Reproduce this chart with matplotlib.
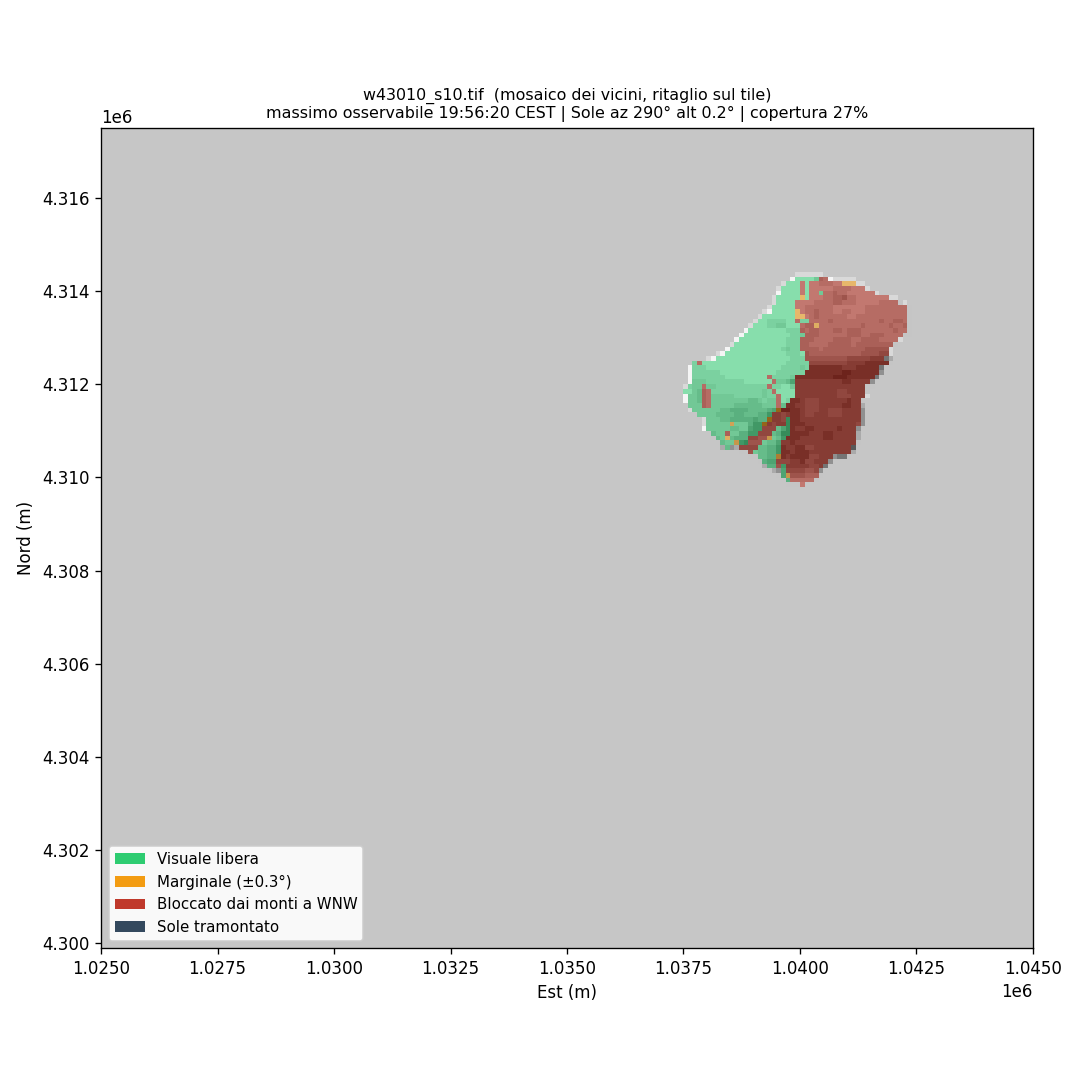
import numpy as np
import matplotlib
matplotlib.use("Agg")
import matplotlib.pyplot as plt
from matplotlib.colors import to_rgb
from matplotlib.patches import Patch

TITLE = "w43010_s10.tif  (mosaico dei vicini, ritaglio sul tile)\nmassimo osservabile 19:56:20 CEST | Sole az 290° alt 0.2° | copertura 27%"
XLABEL = "Est (m)"
YLABEL = "Nord (m)"
LEGEND_LABELS = ["Visuale libera", "Marginale (±0.3°)", "Bloccato dai monti a WNW", "Sole tramontato"]
LEGEND_COLORS = ["#2ecc71", "#f39c12", "#c0392b", "#34495e"]

# raster cells: 100 m, north to south
WEST, NORTH, CELL = 1037500, 4314400, 100
# gray value of each hillshade digit
SHADE_LEVELS = [10, 37, 64, 90, 117, 144, 170, 197, 217, 245]
# class runs per row: _ nothing, e terrain only, G free, O marginal, R blocked
CLASS_ROWS = [
    "24_ 6e",
    "23_ 1e 5G 2R 6e",
    "21_ 1e 3G 1R 1G 7R 3O 2e",
    "20_ 1e 4G 1R 1G 12R 1e",
    "20_ 1e 4G 1R 1G 2R 1G 11R 1e",
    "19_ 1e 5G 1O 1G 17R 2e",
    "19_ 1e 4G 22R 2e",
    "18_ 1e 5G 24R 1e",
    "17_ 2e 5G 1O 23R 1e",
    "16_ 1e 7G 2O 22R 1e",
    "15_ 1e 8G 1R 2G 21R 1e",
    "14_ 1e 10G 3R 1O 19R 1e",
    "13_ 1e 11G 23R 1e",
    "12_ 1e 13G 21R 2e",
    "11_ 1e 13G 21R 1e",
    "10_ 1e 14G 20R 1e",
    "9_ 1e 15G 19R 1e",
    "7_ 2e 17G 18R 1e",
    "5_ 2e 19G 17R 2e",
    "2_ 1G 1R 23G 17R 1e",
    "1_ 1e 25G 15R 1e",
    "1_ 1e 24G 16R 1e",
    "1_ 1e 16G 1R 5G 17R 1e",
    "1_ 1e 17G 1R 4G 16R 1e",
    "1e 3G 1R 13G 1R 5G 15R 2e",
    "4G 2R 13G 1R 4G 15R 1e",
    "1e 3G 2R 14G 1R 3G 15R 1e",
    "1e 3G 2R 14G 1R 2G 15R 1e",
    "1_ 3G 2R 14G 1R 1G 16R 1e",
    "1_ 1e 18G 1O 17R 1e",
    "3_ 16G 19R 1e",
    "4_ 1e 13G 1O 3R 1G 15R 1e",
    "4_ 1e 5G 1O 6G 1O 4R 1G 15R 1e",
    "4_ 1e 12G 3R 3G 14R 1e",
    "6_ 3G 1R 6G 3R 4G 14R 1e",
    "7_ 2G 1O 4G 4R 1O 3G 15R 1e",
    "8_ 3G 1O 2G 3R 4G 16R 1e",
    "8_ 1e 1G 2e 4R 5G 15R 1e",
    "12_ 2e 1R 6G 15R 1e",
    "14_ 2e 4G 1O 11R 4e",
    "16_ 1e 3G 11R 1e",
    "17_ 1e 2G 1R 1G 8R 1e",
    "18_ 3e 1G 7R 1e",
    "20_ 1e 1G 1O 6R 1e",
    "22_ 1G 5R 1e",
    "22_ 3e 1R",
]
# hillshade digit of each non-blank cell, from the row's first cell
SHADE_ROWS = [
    "888888",
    "9 9999 7 56 9 88888",
    "8 999 7 9 7766677 888 88",
    "8 9999 7 9 777776666777 8",
    "9 9999 7 9 77 7 66566777777 8",
    "8 99999 8 9 77766554667777777 88",
    "8 9999 7777666655666777776666 78",
    "8 99999 776666667777777666666666 7",
    "89 99999 8 76656667766777666666666 7",
    "8 9999999 88 7656666667766666666666 7",
    "8 99888899 6 88 666656666666666566556 7",
    "8 9998877999 655 7 6666666665666665665 7",
    "9 99999999888 56556665565556666666566 7",
    "9 9999999999887 555666666555665556666 77",
    "9 9999999999888 555666655556655556666 8",
    "8 99999999999888 55666655555655555555 7",
    "9 999999999998788 5555655555555544444 8",
    "89 99999999999998889 455555555555444433 8",
    "89 9999999999999999888 44444444433333222 46",
    "8 6 99999999999999999988888 33333333222211111 7",
    "9 8889999999999999999888878 111111122211111 4",
    "9 888888999999999999888888 1111111100111111 5",
    "9 8888888999999999 6 88887 11111111000111111 4",
    "9 77788888888999999 6 7764 2222222222112222 5",
    "8 877 6 7788888888888 6 88997 222222222222222 77",
    "9976 56 8888888888878 6 9999 222222222332222 7",
    "9 776 56 77777888888788 6 999 222222222333222 8",
    "9 776 56 77777777667877 6 98 112333222222122 7",
    "777 56 77777666666777 6 6 1122333222221122 6",
    "8 777777665555666654 1 00112333223332222 5",
    "7777666655666553 2232112332223332222 5",
    "8 7776655555455 1 223 2 112222222222222 5",
    "8 77777 6 777533 1 2322 2 111222222222223 5",
    "9 777776677433 333 642 12211222221222 5",
    "677 5 775533 333 6522 11112221122222 6",
    "67 7 6555 3344 5 763 111222221122222 6",
    "677 5 32 444 7664 2212222222222222 7",
    "6 6 56 3333 66553 122113322222222 3",
    "77 4 766553 112111222222222 6",
    "77 6655 3 12111133222 5447",
    "7 544 33322133222 5",
    "6 55 4 3 22222332 4",
    "765 4 3333443 5",
    "7 4 5 444555 7",
    "5 66666 7",
    "777 7",
]
ALPHA = 0.55
CLASS_COLOR = {"G": LEGEND_COLORS[0], "O": LEGEND_COLORS[1], "R": LEGEND_COLORS[2]}

n_rows = len(CLASS_ROWS)
n_cols = 49
shade = np.full((n_rows, n_cols), np.nan)
overlay = np.zeros((n_rows, n_cols, 4))
for r, (runs, digits) in enumerate(zip(CLASS_ROWS, SHADE_ROWS)):
    digits = digits.replace(" ", "")
    c, k = 0, 0
    for tok in runs.split():
        count, kind = int(tok[:-1]), tok[-1]
        for _ in range(count):
            if kind != "_" and c < n_cols:
                d = int(digits[k]) if k < len(digits) else 7
                k += 1
                shade[r, c] = SHADE_LEVELS[d]
                if kind in CLASS_COLOR:
                    overlay[r, c, :3] = to_rgb(CLASS_COLOR[kind])
                    overlay[r, c, 3] = ALPHA
            c += 1

extent = [WEST, WEST + n_cols * CELL, NORTH - n_rows * CELL, NORTH]

fig = plt.figure(figsize=(9, 9), dpi=120)
ax = fig.add_axes([101 / 1080, 1 - 948 / 1080, 932 / 1080, 820 / 1080])
ax.set_facecolor("#c6c6c6")
ax.imshow(shade, extent=extent, cmap="gray", vmin=0, vmax=255, interpolation="nearest", origin="upper")
ax.imshow(overlay, extent=extent, interpolation="nearest", origin="upper")
ax.set_xlim(1025000, 1045000)
ax.set_ylim(4299900, 4317500)
ax.set_aspect("equal")
ax.set_xlabel(XLABEL, fontsize=10)
ax.set_ylabel(YLABEL, fontsize=10)
ax.set_title(TITLE, fontsize=9.5)
ax.legend(handles=[Patch(facecolor=c, edgecolor="none", label=l) for c, l in zip(LEGEND_COLORS, LEGEND_LABELS)],
          loc="lower left", fontsize=9, framealpha=0.9)
fig.savefig("out.png", dpi=120)
